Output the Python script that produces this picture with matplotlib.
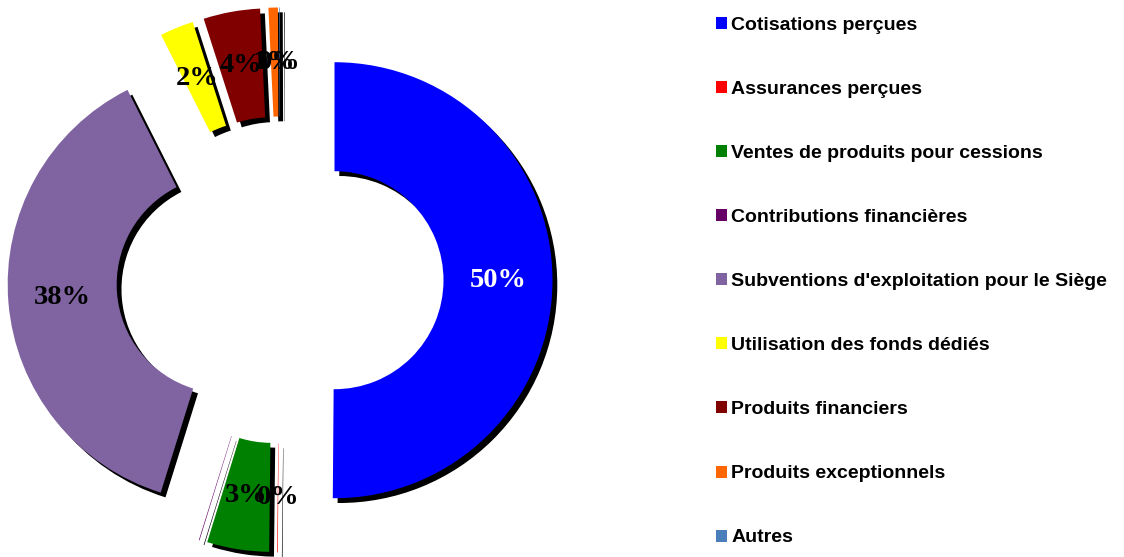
import matplotlib

matplotlib.use("Agg")
import matplotlib.pyplot as plt
from matplotlib.font_manager import FontProperties

categories = [
    "Cotisations perçues",
    "Assurances perçues",
    "Ventes de produits pour cessions",
    "Contributions financières",
    "Subventions d'exploitation pour le Siège",
    "Utilisation des fonds dédiés",
    "Produits financiers",
    "Produits exceptionnels",
    "Autres",
]
# shares in %
shares = [50.2, 0.05, 4.6, 0.05, 37.8, 2.5, 4.2, 0.7, 0.05]
# percentage labels as printed on the chart ("" = not shown)
pct_labels = ["50%", "0%", "3%", "", "38%", "2%", "4%", "1%", "0%"]
colors = ["#0000FF", "#FF0000", "#008000", "#660066", "#8064A2",
          "#FFFF00", "#800000", "#FF6600", "#4A7EBB"]

W, H = 1124, 557
fig = plt.figure(figsize=(W / 100, H / 100), dpi=100)
fig.patch.set_facecolor("white")

# square axes, pie centre at pixel (280, 280), radius 218 px
S = 540
ax = fig.add_axes([(280 - S / 2) / W, (H - 280 - S / 2) / H, S / W, S / H])
lim = (S / 2) / 218
ax.set_aspect("equal")
ax.axis("off")

explode = [0.25] * len(shares)
ring = dict(width=0.5, linewidth=0)

# black drop shadow, shifted right/down
ax.pie(shares, explode=explode, colors=["black"] * len(shares), startangle=90,
       counterclock=False, radius=1, center=(0.022, -0.022), wedgeprops=ring,
       normalize=True)

wedges, texts = ax.pie(
    shares, explode=explode, colors=colors, startangle=90, counterclock=False,
    radius=1, wedgeprops=ring, labels=pct_labels, labeldistance=0.75,
    normalize=True,
    textprops=dict(family="Liberation Serif", weight="bold", size=20.5, color="black"),
)
for t in texts:
    t.set_horizontalalignment("center")
    t.set_verticalalignment("center")
texts[0].set_color("white")

ax.set_xlim(-lim, lim)
ax.set_ylim(-lim, lim)

fig.legend(
    wedges, categories, loc="upper left",
    bbox_to_anchor=(716 / W, (H - 17) / H),
    frameon=False, borderpad=0, borderaxespad=0,
    prop=FontProperties(family="Liberation Sans", weight="bold", size=14),
    handlelength=0.57, handleheight=0.57, handletextpad=0.22, labelspacing=2.42,
)

fig.savefig("out.png", dpi=100, facecolor="white")
